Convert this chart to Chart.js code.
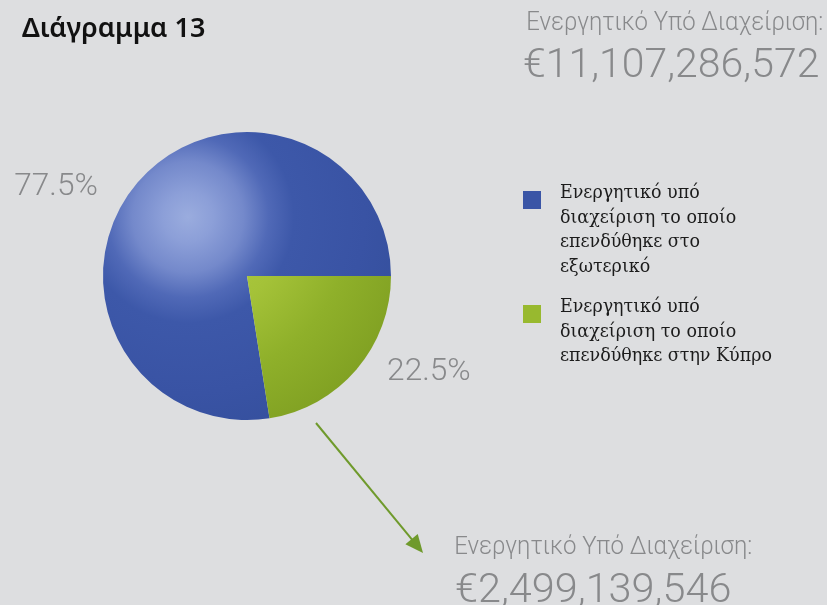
<!DOCTYPE html>
<html lang="el">
<head>
<meta charset="utf-8">
<title>Διάγραμμα 13</title>
<script src="https://cdn.jsdelivr.net/npm/chart.js@4.4.1/dist/chart.umd.min.js"></script>
<style>
    html, body { margin: 0; padding: 0; background: #dddee0; }
    #chart { display: block; }
</style>
</head>
<body>
<canvas id="chart" width="827" height="605"></canvas>
<script>
// ====================================
// DATA
// ====================================

const chartTitle = 'Διάγραμμα 13';
const amountCaption = 'Ενεργητικό Υπό Διαχείριση:';
const totalAmount = 11107286572;
const cyprusAmount = 2499139546;

const sliceLabels = [
    ['Ενεργητικό υπό', 'διαχείριση το οποίο', 'επενδύθηκε στο', 'εξωτερικό'],
    ['Ενεργητικό υπό', 'διαχείριση το οποίο', 'επενδύθηκε στην Κύπρο']
];
const sliceShares = [77.5, 22.5];
const sliceColors = ['#3a55a6', '#98b92f'];

// ====================================
// HELPERS
// ====================================

const GREY = '#88898b';
const LIGHT_FONT = '"Roboto", "Open Sans", "DejaVu Sans", sans-serif';
const SERIF_FONT = '"DejaVu Serif", "Liberation Serif", serif';

function formatEuro(value) {
    return '€' + value.toLocaleString('en-US');
}

// font size that gives capitals `cap` px tall
function sizeForCap(ctx, cap, weight, family) {
    ctx.font = weight + ' 100px ' + family;
    const capH = ctx.measureText('Ε').actualBoundingBoxAscent || 70;
    return 100 * cap / capH;
}

// draw text so its ink spans `width` px and its capitals are `cap` px tall
function drawFitted(ctx, text, x, baseline, width, cap, weight, family, color) {
    ctx.save();
    const size = sizeForCap(ctx, cap, weight, family);
    ctx.font = weight + ' ' + size + 'px ' + family;
    const m = ctx.measureText(text);
    const ink = (m.actualBoundingBoxLeft + m.actualBoundingBoxRight) || m.width;
    ctx.translate(x, baseline);
    ctx.scale(width / ink, 1);
    ctx.fillStyle = color;
    ctx.textBaseline = 'alphabetic';
    ctx.textAlign = 'left';
    ctx.fillText(text, m.actualBoundingBoxLeft || 0, 0);
    ctx.restore();
}

function sliceFill(context) {
    const chart = context.chart;
    const area = chart.chartArea;
    const i = context.dataIndex;
    if (!area) return sliceColors[i];
    const cx = (area.left + area.right) / 2;
    const cy = (area.top + area.bottom) / 2;
    const r = Math.min(area.right - area.left, area.bottom - area.top) / 2;
    const hx = cx - 0.41 * r;
    const hy = cy - 0.41 * r;
    const g = chart.ctx.createRadialGradient(hx, hy, 0, hx, hy, r * 1.75);
    if (i === 0) {
        g.addColorStop(0, '#9aacde');
        g.addColorStop(0.1, '#8c9fd8');
        g.addColorStop(0.22, '#7489cb');
        g.addColorStop(0.32, '#5069b7');
        g.addColorStop(0.42, '#3d58a9');
        g.addColorStop(0.7, '#3953a4');
        g.addColorStop(1, '#334e9a');
    } else {
        g.addColorStop(0, '#b4d048');
        g.addColorStop(0.4, '#a4c238');
        g.addColorStop(0.65, '#8fb02a');
        g.addColorStop(1, '#7c9c20');
    }
    return g;
}

// ====================================
// DECORATION PLUGIN
// ====================================

const decorPlugin = {
    id: 'decor',
    afterDraw(chart) {
        const ctx = chart.ctx;
        const arcs = chart.getDatasetMeta(0).data;
        const cx = arcs[0].x;
        const cy = arcs[0].y;
        const r = arcs[0].outerRadius;

        // title
        drawFitted(ctx, chartTitle, 22, 37, 183, 19, '600', '"Noto Sans", "DejaVu Sans", sans-serif', '#111111');

        // total amount (top right)
        drawFitted(ctx, amountCaption, 528, 30, 294, 19, '300', LIGHT_FONT, GREY);
        drawFitted(ctx, formatEuro(totalAmount), 524, 77, 294, 29, '300', LIGHT_FONT, GREY);

        // percentage labels
        const pct = sliceShares.map(v => v.toFixed(1) + '%');
        drawFitted(ctx, pct[0], cx - 1.04 * r - 82, cy - 0.56 * r, 82, 22, '300', LIGHT_FONT, GREY);
        drawFitted(ctx, pct[1], cx + 0.98 * r, cy + 0.72 * r, 82, 22, '300', LIGHT_FONT, GREY);

        // legend: one common size/stretch, taken from the widest reference line
        const size = sizeForCap(ctx, 13.5, 'normal', SERIF_FONT);
        ctx.font = size + 'px ' + SERIF_FONT;
        const ref = ctx.measureText(sliceLabels[0][1]);
        const sx = 176 / ((ref.actualBoundingBoxLeft + ref.actualBoundingBoxRight) || ref.width);
        const legendTops = [191, 305];
        sliceLabels.forEach((lines, i) => {
            ctx.fillStyle = sliceColors[i];
            ctx.fillRect(523, legendTops[i], 18, 18);
            lines.forEach((line, j) => {
                ctx.save();
                ctx.font = size + 'px ' + SERIF_FONT;
                ctx.fillStyle = '#1c1c1c';
                ctx.translate(560, legendTops[i] + 7 + j * 24.7);
                ctx.scale(sx, 1);
                ctx.fillText(line, 0, 0);
                ctx.restore();
            });
        });

        // arrow from the Cyprus slice to its amount
        const x0 = 316, y0 = 423, x1 = 423, y1 = 553;
        const ang = Math.atan2(y1 - y0, x1 - x0);
        ctx.save();
        ctx.strokeStyle = '#6f9a2c';
        ctx.fillStyle = '#6f9a2c';
        ctx.lineWidth = 2;
        ctx.beginPath();
        ctx.moveTo(x0, y0);
        ctx.lineTo(x1 - 12 * Math.cos(ang), y1 - 12 * Math.sin(ang));
        ctx.stroke();
        ctx.beginPath();
        ctx.moveTo(x1, y1);
        ctx.lineTo(x1 - 18 * Math.cos(ang) + 8 * Math.sin(ang), y1 - 18 * Math.sin(ang) - 8 * Math.cos(ang));
        ctx.lineTo(x1 - 18 * Math.cos(ang) - 8 * Math.sin(ang), y1 - 18 * Math.sin(ang) + 8 * Math.cos(ang));
        ctx.closePath();
        ctx.fill();
        ctx.restore();

        // Cyprus amount (bottom)
        drawFitted(ctx, amountCaption, 456, 554, 295, 18.5, '300', LIGHT_FONT, GREY);
        drawFitted(ctx, formatEuro(cyprusAmount), 456, 602, 274, 29, '300', LIGHT_FONT, GREY);
    }
};

// ====================================
// CHART
// ====================================

new Chart(document.getElementById('chart'), {
    type: 'pie',
    data: {
        labels: sliceLabels,
        datasets: [{
            data: sliceShares,
            backgroundColor: sliceFill,
            borderWidth: 0
        }]
    },
    options: {
        responsive: false,
        animation: false,
        rotation: 90 + sliceShares[1] * 3.6,
        layout: {
            padding: { left: 103, right: 436, top: 132, bottom: 185 }
        },
        plugins: {
            legend: { display: false },
            tooltip: { enabled: false }
        }
    },
    plugins: [decorPlugin]
});
</script>
</body>
</html>
